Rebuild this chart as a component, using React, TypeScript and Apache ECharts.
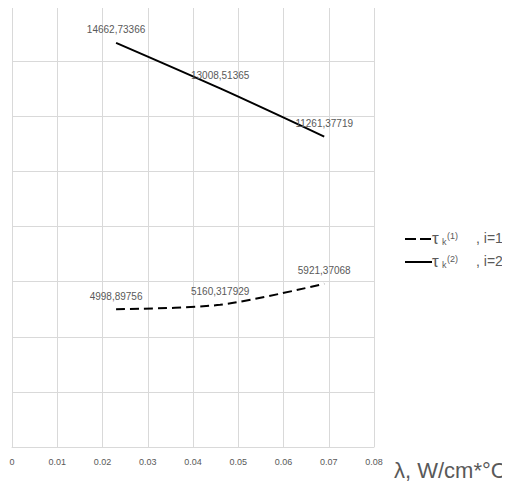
import React, { useEffect, useRef } from "react";
import * as echarts from "echarts";

const lambdas = [0.023, 0.046, 0.069];
const tau1 = [4998.89756, 5160.317929, 5921.37068];
const tau2 = [14662.73366, 13008.51365, 11261.37719];
const tau1Labels = ["4998,89756", "5160,317929", "5921,37068"];
const tau2Labels = ["14662,73366", "13008,51365", "11261,37719"];
const xTicks = { min: 0, max: 0.08, interval: 0.01 };
const yTicks = { min: 0, max: 16000, interval: 2000 };

const FONT = "'Liberation Sans', sans-serif";
const TXT = "#595959";

export default function App() {
  const ref = useRef<HTMLDivElement>(null);
  useEffect(() => {
    if (!ref.current) return;
    const chart = echarts.init(ref.current, undefined, { renderer: "svg" });
    const mk = (vals: number[], labels: string[]) =>
      vals.map((v, i) => ({ value: [lambdas[i], v], label: { formatter: labels[i] } }));
    const t = (x: number, y: number, text: string, size: number) => ({
      type: "text",
      x,
      y,
      style: { text, fontSize: size, fontFamily: FONT, fill: TXT, verticalAlign: "middle", align: "left" },
    });
    const legendRow = (y: number, dashed: boolean, sup: string, idx: string) => [
      {
        type: "line",
        shape: { x1: 405, y1: y, x2: dashed ? 431 : 432, y2: y },
        style: { stroke: "#000", lineWidth: 2, lineDash: dashed ? [11, 4] : null },
      },
      t(432, y - 1, "τ", 17),
      t(442, y + 3, "k", 9),
      t(447, y - 3.5, sup, 9),
      t(476, y - 1, ", i=" + idx, 14),
    ];
    chart.setOption({
      animation: false,
      grid: { left: 12, right: 136, top: 6, bottom: 35, containLabel: false },
      xAxis: {
        type: "value",
        ...xTicks,
        name: "λ, W/cm*°C",
        nameLocation: "end",
        nameGap: 20,
        nameTextStyle: { fontSize: 22, color: TXT, fontFamily: FONT, verticalAlign: "top", padding: [12, 0, 0, 0] },
        axisLine: { show: true, lineStyle: { color: "#d9d9d9" } },
        axisTick: { show: false },
        axisLabel: { fontSize: 9, color: TXT, fontFamily: FONT, margin: 10 },
        splitLine: { show: true, lineStyle: { color: "#d9d9d9" } },
      },
      yAxis: {
        type: "value",
        ...yTicks,
        axisLine: { show: false },
        axisTick: { show: false },
        axisLabel: { show: false },
        splitLine: { show: true, lineStyle: { color: "#d9d9d9" } },
      },
      series: [
        {
          name: "tau1",
          type: "line",
          smooth: 0.3,
          symbol: "circle",
          symbolSize: 0,
          data: mk(tau1, tau1Labels),
          lineStyle: { color: "#000", width: 2, type: [9, 5] },
          itemStyle: { color: "#000" },
          label: { show: true, position: "top", distance: 8, fontSize: 10, color: TXT, fontFamily: FONT },
        },
        {
          name: "tau2",
          type: "line",
          smooth: 0.3,
          symbol: "circle",
          symbolSize: 0,
          data: mk(tau2, tau2Labels),
          lineStyle: { color: "#000", width: 2 },
          itemStyle: { color: "#000" },
          label: { show: true, position: "top", distance: 8, fontSize: 10, color: TXT, fontFamily: FONT },
        },
      ],
      graphic: [...legendRow(239, true, "(1)", "1"), ...legendRow(262, false, "(2)", "2")],
    });
    return () => chart.dispose();
  }, []);
  return <div ref={ref} style={{ width: 510, height: 482, marginLeft: -8, marginTop: -8 }} />;
}
